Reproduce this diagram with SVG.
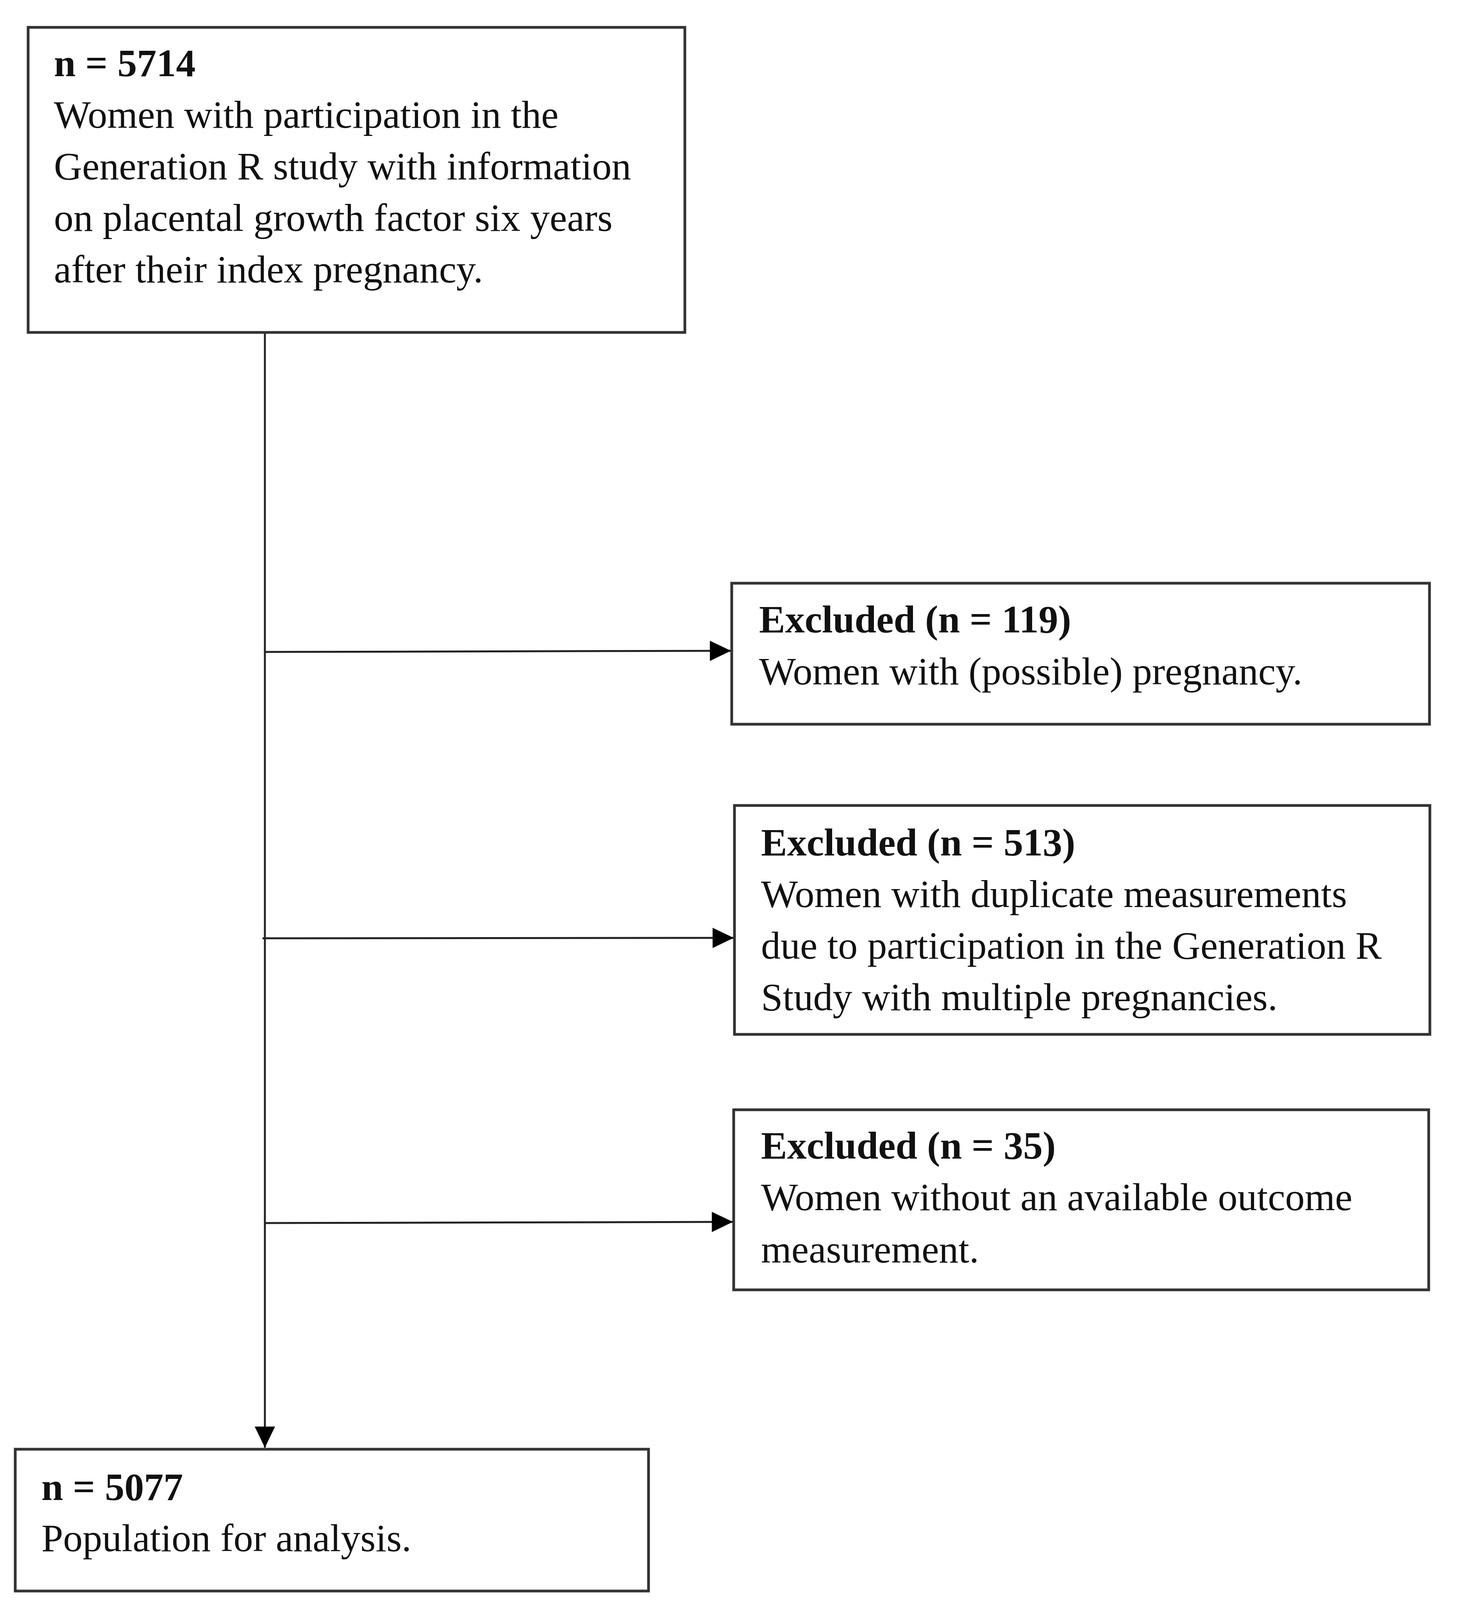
<svg xmlns="http://www.w3.org/2000/svg" width="3732" height="4507" viewBox="0 0 3732 4507">
<style>
.box{fill:#ffffff;stroke:#333333;stroke-width:7}
.t{font-family:"Liberation Serif","Times New Roman",serif;font-size:100px;fill:#111111}
.b{font-weight:bold}
.conn{stroke:#222222;stroke-width:5;fill:none}
</style>
<defs>
<marker id="arrow" markerUnits="userSpaceOnUse" viewBox="0 0 54 52" refX="54" refY="26" markerWidth="54" markerHeight="52" orient="auto">
<path d="M0,0 L54,26 L0,52 Z" fill="#000000"/>
</marker>
</defs>
<rect width="3732" height="4507" fill="#ffffff"/>
<g id="connectors">
<line class="conn" x1="678" y1="851" x2="678" y2="3706" marker-end="url(#arrow)"/>
<line class="conn" x1="678" y1="1669" x2="1871" y2="1666" marker-end="url(#arrow)"/>
<line class="conn" x1="672" y1="2402" x2="1878" y2="2401" marker-end="url(#arrow)"/>
<line class="conn" x1="678" y1="3131" x2="1876" y2="3128" marker-end="url(#arrow)"/>
</g>
<g id="node-start">
<rect class="box" x="72" y="70" width="1681" height="781"/>
<text class="t b" x="138" y="195">n = 5714</text>
<text class="t" x="138" y="327">Women with participation in the</text>
<text class="t" x="138" y="459">Generation R study with information</text>
<text class="t" x="138" y="591">on placental growth factor six years</text>
<text class="t" x="138" y="723">after their index pregnancy.</text>
</g>
<g id="node-excl-119">
<rect class="box" x="1873" y="1493" width="1786" height="361"/>
<text class="t b" x="1943" y="1619">Excluded (n = 119)</text>
<text class="t" x="1943" y="1752">Women with (possible) pregnancy.</text>
</g>
<g id="node-excl-513">
<rect class="box" x="1880" y="2062" width="1780" height="586"/>
<text class="t b" x="1948" y="2190">Excluded (n = 513)</text>
<text class="t" x="1948" y="2322">Women with duplicate measurements</text>
<text class="t" x="1948" y="2454">due to participation in the Generation R</text>
<text class="t" x="1948" y="2586">Study with multiple pregnancies.</text>
</g>
<g id="node-excl-35">
<rect class="box" x="1878" y="2841" width="1779" height="461"/>
<text class="t b" x="1948" y="2966">Excluded (n = 35)</text>
<text class="t" x="1948" y="3098">Women without an available outcome</text>
<text class="t" x="1948" y="3232">measurement.</text>
</g>
<g id="node-final">
<rect class="box" x="39" y="3710" width="1621" height="363"/>
<text class="t b" x="106" y="3840">n = 5077</text>
<text class="t" x="106" y="3971">Population for analysis.</text>
</g>
</svg>
